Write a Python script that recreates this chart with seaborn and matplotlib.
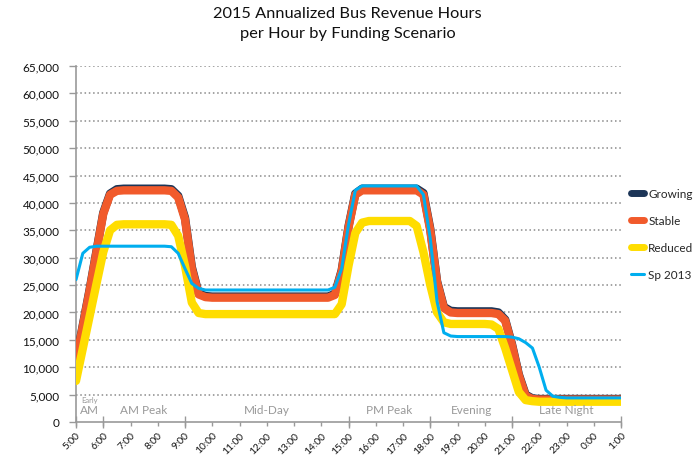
import matplotlib
matplotlib.use("Agg")
import matplotlib.pyplot as plt
from matplotlib.lines import Line2D
from matplotlib.ticker import FuncFormatter, FixedLocator
import seaborn as sns
import pandas as pd

# Quarter-hour time grid, 5:00 through 1:00 the next day (hours, 25 = 1:00)
hours = [5 + q * 0.25 for q in range(81)]

growing = [
    11200, 17700, 24200, 31200, 38200, 41700, 42500, 42600,          # 5:00-6:45
    42600, 42600, 42600, 42600, 42600, 42600, 42500, 41300,          # 7:00-8:45
    37300, 28300, 23500, 23000, 22900, 22900, 22900, 22900,          # 9:00-10:45
    22900, 22900, 22900, 22900, 22900, 22900, 22900, 22900,          # 11:00-12:45
    22900, 22900, 22900, 22900, 22900, 22900, 23400, 27700,          # 13:00-14:45
    35700, 41700, 42600, 42600, 42600, 42600, 42600, 42600,          # 15:00-16:45
    42600, 42600, 42600, 41800, 35300, 25700, 21000, 20300,          # 17:00-18:45
    20200, 20200, 20200, 20200, 20200, 20200, 20000, 18700,          # 19:00-20:45
    14200, 8700, 5000, 4300, 4200, 4200, 4200, 4200,                 # 21:00-22:45
    4200, 4200, 4200, 4200, 4200, 4200, 4200, 4200,                  # 23:00-0:45
    4200,                                                            # 1:00
]

stable = [
    11000, 17500, 24000, 31000, 38000, 41500, 42200, 42300,
    42300, 42300, 42300, 42300, 42300, 42300, 42200, 41000,
    37000, 28000, 23300, 22800, 22700, 22700, 22700, 22700,
    22700, 22700, 22700, 22700, 22700, 22700, 22700, 22700,
    22700, 22700, 22700, 22700, 22700, 22700, 23200, 27500,
    35500, 41500, 42300, 42300, 42300, 42300, 42300, 42300,
    42300, 42300, 42300, 41500, 35000, 25500, 20800, 20000,
    19900, 19900, 19900, 19900, 19900, 19900, 19700, 18500,
    14000, 8500, 4800, 4200, 4100, 4100, 4100, 4100,
    4100, 4100, 4100, 4100, 4100, 4100, 4100, 4100,
    4100,
]

reduced = [
    7500, 13400, 19300, 25200, 31000, 35000, 36000, 36100,
    36100, 36100, 36100, 36100, 36100, 36100, 36000, 34000,
    28500, 21800, 19900, 19700, 19700, 19700, 19700, 19700,
    19700, 19700, 19700, 19700, 19700, 19700, 19700, 19700,
    19700, 19700, 19700, 19700, 19700, 19700, 19700, 21500,
    28500, 34500, 36400, 36700, 36700, 36700, 36700, 36700,
    36700, 36700, 35800, 31000, 25000, 20000, 18200, 17900,
    17900, 17900, 17900, 17900, 17900, 17800, 17000, 13500,
    9500, 5500, 4000, 3800, 3700, 3700, 3700, 3700,
    3700, 3700, 3700, 3700, 3700, 3700, 3700, 3700,
    3700,
]

sp2013 = [
    26000, 30800, 31900, 32100, 32100, 32100, 32100, 32100,
    32100, 32100, 32100, 32100, 32100, 32100, 32000, 30800,
    28000, 25300, 24400, 24100, 24100, 24100, 24100, 24100,
    24100, 24100, 24100, 24100, 24100, 24100, 24100, 24100,
    24100, 24100, 24100, 24100, 24100, 24100, 24600, 28000,
    36000, 42300, 43100, 43100, 43100, 43100, 43100, 43100,
    43100, 43100, 43100, 41500, 33500, 22000, 16300, 15700,
    15600, 15600, 15600, 15600, 15600, 15600, 15600, 15600,
    15500, 15200, 14500, 13500, 10000, 5800, 4700, 4500,
    4400, 4400, 4400, 4400, 4400, 4400, 4400, 4400,
    4400,
]

series_names = ["Growing", "Stable", "Reduced", "Sp 2013"]
series_colors = ["#1c3557", "#f15a2b", "#ffdd00", "#00aeef"]
series_widths = [6.0, 6.0, 6.0, 2.2]

tick_labels = ["5:00", "6:00", "7:00", "8:00", "9:00", "10:00", "11:00", "12:00",
               "13:00", "14:00", "15:00", "16:00", "17:00", "18:00", "19:00",
               "20:00", "21:00", "22:00", "23:00", "0:00", "1:00"]

period_names = ["AM", "AM Peak", "Mid-Day", "PM Peak", "Evening", "Late Night"]
period_bounds = [5, 6, 9, 15, 18, 21, 25]

df = pd.DataFrame({
    "hour": hours * 4,
    "hours_per_hour": growing + stable + reduced + sp2013,
    "scenario": sum([[n] * len(hours) for n in series_names], []),
})

sns.set_style("white")
plt.rcParams["font.family"] = ["Lato", "DejaVu Sans"]

fig = plt.figure(figsize=(6.99, 4.60), dpi=100)
ax = fig.add_axes([76 / 699, 1 - 423 / 460, (621 - 76) / 699, (423 - 67) / 460])

for name, color, lw in zip(series_names, series_colors, series_widths):
    sub = df[df["scenario"] == name]
    sns.lineplot(data=sub, x="hour", y="hours_per_hour", ax=ax, color=color,
                 linewidth=lw, solid_capstyle="round", solid_joinstyle="round",
                 legend=False, zorder=3)

ax.set_xlim(5, 25)
ax.set_ylim(0, 65000)
ax.set_xlabel("")
ax.set_ylabel("")

# y axis
ax.set_yticks(range(0, 65001, 5000))
ax.yaxis.set_major_formatter(FuncFormatter(lambda v, p: f"{int(v):,}"))
ax.tick_params(axis="y", which="major", direction="out", length=5, width=1,
               color="#999999", pad=7, labelsize=8.5, labelcolor="#111111", left=True)
for yv in range(5000, 65001, 5000):
    ax.axhline(yv, color="#8a8a8a", linewidth=1.1, linestyle=(0, (1, 1.8)), zorder=1)

# x axis: hourly ticks below the line, period boundaries crossing it
ax.set_xticks(range(5, 26))
ax.set_xticklabels(tick_labels, rotation=45, ha="right", va="top",
                   rotation_mode="anchor")
ax.tick_params(axis="x", which="major", direction="out", length=3, width=1,
               color="#999999", pad=3, labelsize=7.3, labelcolor="#111111", bottom=True)
ax.xaxis.remove_overlapping_locs = False
ax.xaxis.set_minor_locator(FixedLocator(period_bounds))
ax.tick_params(axis="x", which="minor", direction="inout", length=9, width=1,
               color="#999999", bottom=True)

for side in ["top", "right"]:
    ax.spines[side].set_visible(False)
for side in ["left", "bottom"]:
    ax.spines[side].set_color("#999999")
    ax.spines[side].set_linewidth(1.2)

# time-of-day period labels
for i, name in enumerate(period_names):
    mid = (period_bounds[i] + period_bounds[i + 1]) / 2
    ax.text(mid, 1200, name, ha="center", va="bottom", fontsize=8.5, color="#999999")
ax.text(5.5, 3400, "Early", ha="center", va="bottom", fontsize=5.5, color="#999999")

fig.suptitle("2015 Annualized Bus Revenue Hours\nper Hour by Funding Scenario",
             x=0.497, y=0.985, fontsize=11.8, color="#111111", linespacing=1.55)

handles = [Line2D([0], [0], color=c, linewidth=(5 if w > 3 else 2.2), solid_capstyle="round")
           for c, w in zip(series_colors, series_widths)]
fig.legend(handles, series_names, loc="upper left", bbox_to_anchor=(631 / 699, 1 - 189 / 460),
           frameon=False, fontsize=8.5, handlelength=1.1, handletextpad=0.35,
           labelspacing=1.35, borderaxespad=0, borderpad=0)

fig.savefig("out.png", dpi=100)
